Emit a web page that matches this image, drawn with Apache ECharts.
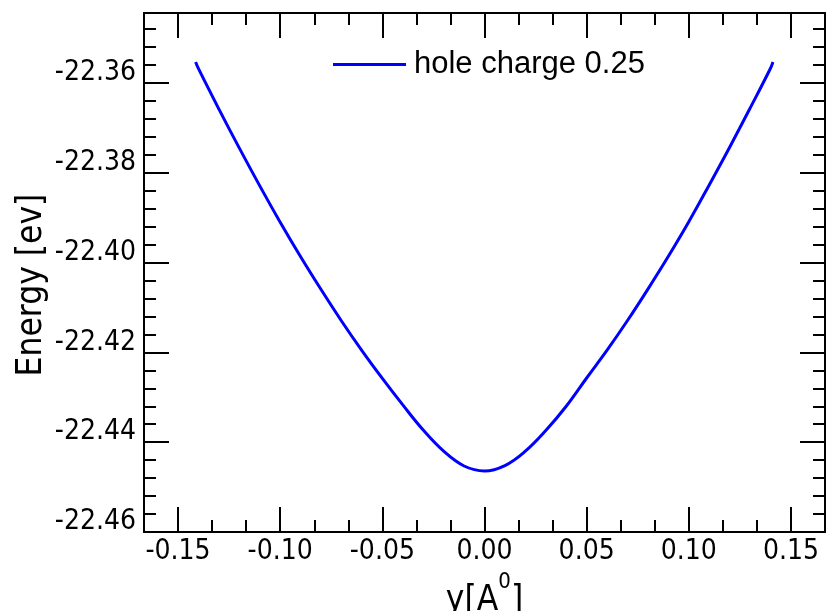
<!DOCTYPE html>
<html>
<head>
<meta charset="utf-8">
<script src="https://cdn.jsdelivr.net/npm/echarts@6/dist/echarts.min.js"></script>
<style>
  html, body { margin: 0; padding: 0; background: #ffffff; }
  #chart { width: 826px; height: 611px; }
</style>
</head>
<body>
<div id="chart"></div>
<script>
// Displacement y (Å) and total energy (eV)
const positions = [
  -0.1414, -0.14, -0.13, -0.12, -0.11, -0.10, -0.09, -0.08, -0.07, -0.06, -0.05,
  -0.04, -0.03, -0.02, -0.01, 0.00, 0.01, 0.02, 0.03, 0.04, 0.05,
  0.06, 0.07, 0.08, 0.09, 0.10, 0.11, 0.12, 0.13, 0.14, 0.1412
];
const energies = [
  -22.3553, -22.3568, -22.3658, -22.3745, -22.3829, -22.3910, -22.3987, -22.4060, -22.4130, -22.4196, -22.4258,
  -22.4317, -22.4373, -22.4420, -22.4453, -22.4464, -22.4452, -22.4420, -22.4374, -22.4320, -22.4257,
  -22.4195, -22.4129, -22.4059, -22.3986, -22.3909, -22.3827, -22.3743, -22.3656, -22.3567, -22.3553
];
const seriesName = 'hole charge 0.25';
const xMajorTicks = [-0.15, -0.10, -0.05, 0.00, 0.05, 0.10, 0.15];
const yMajorTicks = [-22.46, -22.44, -22.42, -22.40, -22.38, -22.36];

const X_MIN = -1 / 6, X_MAX = 1 / 6;
const Y_MIN = -22.46, Y_MAX = -22.3444;

// minor ticks: each major interval split into `parts` pieces
function minorTicks(majors, parts, lo, hi) {
  const step = (majors[1] - majors[0]) / parts;
  const out = [];
  for (let k = -parts * 2; k <= (majors.length + 1) * parts; k++) {
    if (k % parts === 0) continue;
    const v = +(majors[0] + k * step).toFixed(6);
    if (v > lo + 1e-9 && v < hi - 1e-9) out.push(v);
  }
  return out;
}
const xMinorTicks = minorTicks(xMajorTicks, 3, X_MIN, X_MAX);
const yMinorTicks = minorTicks(yMajorTicks, 5, Y_MIN, Y_MAX);

const tickFont = "'DejaVu Sans Condensed', 'DejaVu Sans', sans-serif";
const black = '#000000';

function frameAxis(position, min, max, ticks, len, withLine, label) {
  return {
    type: 'value',
    position: position,
    min: min,
    max: max,
    axisLine: { show: withLine, onZero: false, lineStyle: { color: black, width: 2 } },
    axisTick: { show: true, inside: true, length: len, customValues: ticks,
                lineStyle: { color: black, width: 2 } },
    axisLabel: label || { show: false },
    splitLine: { show: false },
    minorTick: { show: false }
  };
}

const xAxes = [
  Object.assign(frameAxis('bottom', X_MIN, X_MAX, xMajorTicks, 25, true, {
    show: true,
    customValues: xMajorTicks,
    formatter: v => v.toFixed(2),
    fontFamily: tickFont, fontSize: 28, color: black, margin: 6
  }), {
    name: '{n|y[A}{s|0}{n|]}',
    nameLocation: 'middle',
    nameGap: 35,
    nameTextStyle: {
      rich: {
        n: { fontFamily: tickFont, fontSize: 35, lineHeight: 60, color: black },
        s: { fontFamily: tickFont, fontSize: 22, lineHeight: 22, verticalAlign: 'top', color: black }
      }
    }
  }),
  frameAxis('bottom', X_MIN, X_MAX, xMinorTicks, 12, false),
  frameAxis('top', X_MIN, X_MAX, xMajorTicks, 25, true),
  frameAxis('top', X_MIN, X_MAX, xMinorTicks, 12, false)
];

const yAxes = [
  frameAxis('left', Y_MIN, Y_MAX, yMajorTicks, 25, true, {
    show: true,
    customValues: yMajorTicks,
    formatter: v => v.toFixed(2),
    fontFamily: tickFont, fontSize: 28, color: black, margin: 8,
    verticalAlign: 'bottom',
    lineHeight: 20
  }),
  frameAxis('left', Y_MIN, Y_MAX, yMinorTicks, 12, false),
  frameAxis('right', Y_MIN, Y_MAX, yMajorTicks, 25, true),
  frameAxis('right', Y_MIN, Y_MAX, yMinorTicks, 12, false)
];

const chart = echarts.init(document.getElementById('chart'), null, { renderer: 'canvas' });
chart.setOption({
  animation: false,
  backgroundColor: '#ffffff',
  grid: { left: 144, right: 1, top: 13, bottom: 79, containLabel: false, outerBoundsMode: 'none' },
  legend: {
    data: [{ name: seriesName, icon: 'rect' }],
    left: 333,
    top: 49,
    padding: 0,
    itemWidth: 73,
    itemHeight: 3,
    textStyle: { fontFamily: "'Liberation Sans', Arial, sans-serif", fontSize: 31, color: black,
                 padding: [0, 0, 0, 3] }
  },
  graphic: [{
    type: 'text',
    x: 32,
    y: 285,
    rotation: Math.PI / 2,
    style: {
      text: 'Energy [ev]',
      font: "35px 'DejaVu Sans Condensed', 'DejaVu Sans', sans-serif",
      fill: black,
      align: 'center',
      verticalAlign: 'middle'
    }
  }],
  xAxis: xAxes,
  yAxis: yAxes,
  series: [{
    name: seriesName,
    type: 'line',
    xAxisIndex: 0,
    yAxisIndex: 0,
    data: positions.map((x, i) => [x, energies[i]]),
    showSymbol: false,
    symbol: 'none',
    smooth: 0.4,
    lineStyle: { color: '#0000ff', width: 3 },
    itemStyle: { color: '#0000ff' }
  }]
});
</script>
</body>
</html>
